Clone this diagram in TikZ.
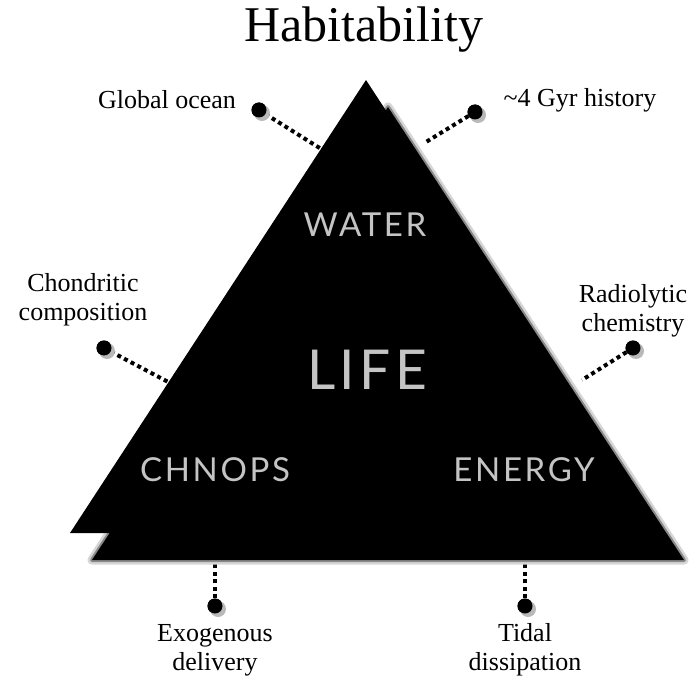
\documentclass[tikz,border=0pt]{standalone}
\usepackage{fontspec}
\setmainfont{Liberation Serif}
\newfontfamily\chalkfont[LetterSpace=8]{Lato}
\usepackage{tikz}
\usetikzlibrary{positioning,calc}
\definecolor{chalkGrey}{HTML}{C4C4C4}
\definecolor{fuzzGrey}{HTML}{8A8A8A}

\begin{document}
\begin{tikzpicture}[x=1pt,y=-1pt,
  lbl/.style={align=center,font=\fontsize{26}{29}\selectfont,inner sep=0pt},
  chalk/.style={text=chalkGrey,inner sep=0pt},
  dot/.style={circle,fill=black,minimum size=15pt,inner sep=0pt},
  link/.style={line width=4pt,dash pattern=on 4pt off 3.5pt}]
\useasboundingbox (0,0) rectangle (691,682);
% triangle corners and its shadow's corners
\coordinate (top) at (366,80);
\coordinate (bl) at (70,533);
\coordinate (br) at (662,533);
\coordinate (sTop) at ($(top)+(22,27)$);
\coordinate (sBl) at ($(bl)+(22,27)$);
\coordinate (sBr) at ($(br)+(22,27)$);
% title
\node[font=\fontsize{50}{50}\selectfont,inner sep=0pt] (title) at (364,30) {Habitability};
% dotted links (drawn under the triangle)
\node[dot] (dOcean) at (259,110) {};
\node[dot] (dGyr) at (475,112) {};
\node[dot] (dChon) at (104,348) {};
\node[dot] (dRadio) at (633,348) {};
\node[dot] (dExo) at (215,606) {};
\node[dot] (dTidal) at (525,606) {};
\coordinate (eOcean) at (326,152);
\coordinate (eGyr) at (426,142);
\coordinate (eChon) at (172,384);
\coordinate (eRadio) at (582,380);
\coordinate (eExo) at (215,552);
\coordinate (eTidal) at (525,552);
\foreach \d/\e in {dOcean/eOcean,dGyr/eGyr,dChon/eChon,dRadio/eRadio,dExo/eExo,dTidal/eTidal}
  \draw[link] (\d) -- (\e);
% blurred shadow, then the triangle
\fill[fuzzGrey!35,draw=fuzzGrey!35,line width=9pt,line join=round] (sTop) -- (sBl) -- (sBr) -- cycle;
\fill[fuzzGrey,draw=fuzzGrey,line width=4pt,line join=round] (sTop) -- (sBl) -- (sBr) -- cycle;
\fill[black] (sTop) -- (sBl) -- (sBr) -- cycle;
\fill[black] (top) -- (bl) -- (br) -- cycle;
% dots with a soft shadow
\foreach \d in {dOcean,dGyr,dChon,dRadio,dExo,dTidal}{
  \fill[fuzzGrey!60] ($(\d)+(3,3)$) circle (8);
  \fill[black] (\d) circle (7.5);
}
% words on the triangle
\node[chalk,font=\chalkfont\fontsize{33}{33}\selectfont] (water) at (365,225) {WATER};
\node[chalk,font=\chalkfont\fontsize{55}{55}\selectfont] (life) at (367,370) {LIFE};
\node[chalk,font=\chalkfont\fontsize{33}{33}\selectfont] (chnops) at (215,470) {CHNOPS};
\node[chalk,font=\chalkfont\fontsize{33}{33}\selectfont] (energy) at (524,470) {ENERGY};
% labels
\node[lbl] (ocean) at (167,100) {Global ocean};
\node[lbl] (gyr) at (580,100) {\textasciitilde4 Gyr history};
\node[lbl] (chon) at (83,300) {Chondritic\\composition};
\node[lbl] (radio) at (633,311) {Radiolytic\\chemistry};
\node[lbl] (exo) at (215,650) {Exogenous\\delivery};
\node[lbl] (tidal) at (525,650) {Tidal\\dissipation};
\end{tikzpicture}
\end{document}
